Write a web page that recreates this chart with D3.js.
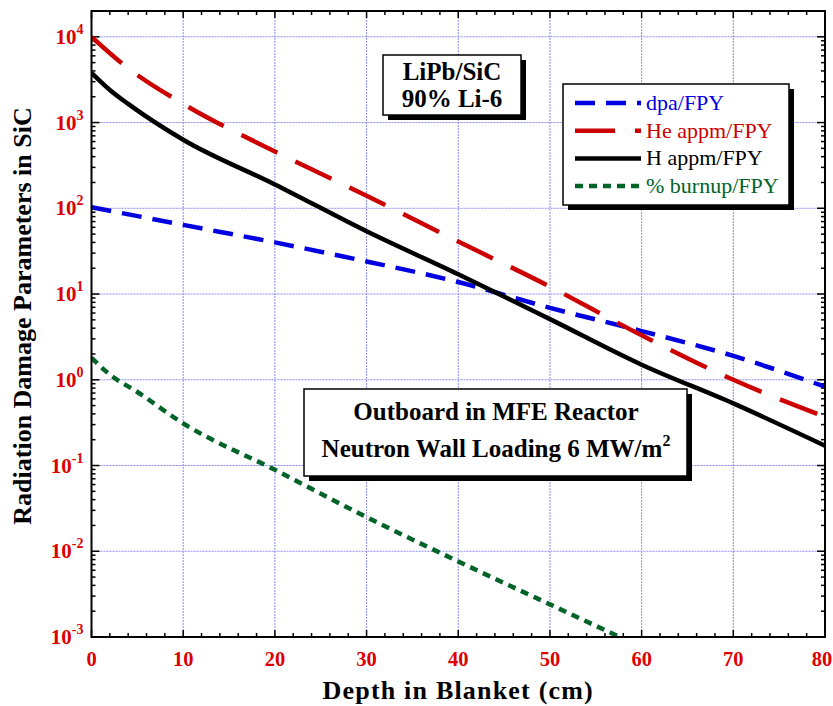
<!DOCTYPE html>
<html>
<head>
<meta charset="utf-8">
<script src="https://cdn.jsdelivr.net/npm/d3@7"></script>
<style>
body{margin:0;background:#fff}
text{font-family:"Liberation Serif","Times New Roman",serif}
</style>
</head>
<body>
<script>
// depth in blanket (cm) and values per full-power year
var depthA=[0,2,4,10,20,30,40,50,60,70,80]
var hAppm=[3800,2400,1650,630,190,54,17,5.1,1.5,0.53,0.17]
var depthB=[0,4,10,20,30,40,50,60,70,80]
var heAppm=[10000,4300,1650,460,140,41,12.2,3.3,1.0,0.37]
var depthC=[0,10,20,30,40,50,60,70,80]
var dpa=[103,64,40,24,13.8,6.9,3.7,1.9,0.83]
var depthD=[0,2,5,10,20,30,40,50,60]
var burnup=[1.8,1.15,0.72,0.31,0.089,0.025,0.0076,0.0024,0.00076]
var xTicks=[0,10,20,30,40,50,60,70,80]
var yExps=[-3,-2,-1,0,1,2,3,4]

var screen={width:833,height:706}
var margins={top:11,right:8,bottom:69,left:91.5}
var width=screen.width-margins.left-margins.right
var height=screen.height-margins.top-margins.bottom

var series=[
  {name:"dpa/FPY",x:depthC,y:dpa,color:"#0000e0",dash:"20,11"},
  {name:"He appm/FPY",x:depthB,y:heAppm,color:"#cc0000",dash:"40,20"},
  {name:"H appm/FPY",x:depthA,y:hAppm,color:"#000000",dash:null},
  {name:"% burnup/FPY",x:depthD,y:burnup,color:"#006428",dash:"8,6"}
]

var xScale=d3.scaleLinear().domain([0,80]).range([0,width])
var yScale=d3.scaleLog().domain([1e-3,2e4]).range([height,0])

var svg=d3.select("body").append("svg")
  .attr("width",screen.width)
  .attr("height",screen.height)
var g=svg.append("g")
  .attr("transform","translate("+margins.left+","+margins.top+")")

g.append("clipPath").attr("id","clip")
  .append("rect").attr("width",width).attr("height",height)

//grid
var grid=g.append("g").attr("stroke","#8c8cf0").attr("stroke-width",1).attr("stroke-dasharray","2,1")
grid.selectAll(".gx").data(xTicks.slice(1,-1)).enter().append("line")
  .attr("x1",function(d){return xScale(d)}).attr("x2",function(d){return xScale(d)})
  .attr("y1",0).attr("y2",height)
grid.selectAll(".gy").data(yExps.slice(1)).enter().append("line")
  .attr("y1",function(d){return yScale(Math.pow(10,d))}).attr("y2",function(d){return yScale(Math.pow(10,d))})
  .attr("x1",0).attr("x2",width)

//ticks, all pointing inward
var minorX=d3.range(0,81,2)
var minorY=[]
yExps.forEach(function(e){for(var k=1;k<10;k++){var v=k*Math.pow(10,e);if(v<=2e4)minorY.push(v)}})
minorY.push(2e4)
var ticks=g.append("g").attr("stroke","#000").attr("stroke-width",1.5)
minorX.forEach(function(d){
  var len=d%10==0?7:4
  ticks.append("line").attr("x1",xScale(d)).attr("x2",xScale(d)).attr("y1",height).attr("y2",height-len)
  ticks.append("line").attr("x1",xScale(d)).attr("x2",xScale(d)).attr("y1",0).attr("y2",len)
})
minorY.forEach(function(d){
  var major=Math.abs(Math.log10(d)-Math.round(Math.log10(d)))<1e-9
  var len=major?8:4
  ticks.append("line").attr("y1",yScale(d)).attr("y2",yScale(d)).attr("x1",0).attr("x2",len)
  ticks.append("line").attr("y1",yScale(d)).attr("y2",yScale(d)).attr("x1",width).attr("x2",width-len)
})

//lines
var drawLine=function(s){
  return d3.line()
    .x(function(d,i){return xScale(s.x[i])})
    .y(function(d){return yScale(d)})
    .curve(d3.curveMonotoneX)(s.y)
}
g.append("g").attr("clip-path","url(#clip)")
  .selectAll("path").data(series).enter().append("path")
  .attr("d",drawLine)
  .attr("fill","none")
  .attr("stroke",function(d){return d.color})
  .attr("stroke-width",4.5)
  .attr("stroke-dasharray",function(d){return d.dash})

//frame
g.append("rect").attr("width",width).attr("height",height)
  .attr("fill","none").attr("stroke","#000").attr("stroke-width",2)

//tick labels
g.selectAll(".xl").data(xTicks).enter().append("text")
  .attr("x",function(d){return xScale(d)}).attr("y",height+29)
  .attr("dx",function(d,i){return i==xTicks.length-1?-3:0})
  .attr("text-anchor","middle").attr("fill","#dd0000")
  .attr("font-weight","bold").attr("font-size",20.5)
  .text(function(d){return d})
var yl=g.selectAll(".yl").data(yExps).enter().append("text")
  .attr("x",-8).attr("y",function(d){return yScale(Math.pow(10,d))+7})
  .attr("text-anchor","end").attr("fill","#dd0000")
  .attr("font-weight","bold").attr("font-size",21)
yl.append("tspan").text("10")
yl.append("tspan").attr("dy",-10).attr("font-size",14).text(function(d){return d})

//axis titles
svg.append("text").attr("x",margins.left+width/2).attr("y",699)
  .attr("text-anchor","middle").attr("font-weight","bold").attr("font-size",26)
  .attr("letter-spacing",1.2)
  .text("Depth in Blanket (cm)")
svg.append("text").attr("transform","translate(31,316) rotate(-90)")
  .attr("text-anchor","middle").attr("font-weight","bold").attr("font-size",26)
  .text("Radiation Damage Parameters in SiC")

//boxes with drop shadow
var box=function(x,y,w,h){
  svg.append("rect").attr("x",x+5).attr("y",y+5).attr("width",w).attr("height",h).attr("fill","#000")
  svg.append("rect").attr("x",x).attr("y",y).attr("width",w).attr("height",h)
    .attr("fill","#fff").attr("stroke","#000").attr("stroke-width",1.5)
}
box(383,55,138,60)
svg.append("text").attr("x",452).attr("y",80).attr("text-anchor","middle")
  .attr("font-weight","bold").attr("font-size",25).text("LiPb/SiC")
svg.append("text").attr("x",452).attr("y",107).attr("text-anchor","middle")
  .attr("font-weight","bold").attr("font-size",25).text("90% Li-6")

box(304,389,383,87)
svg.append("text").attr("x",496).attr("y",420).attr("text-anchor","middle")
  .attr("font-weight","bold").attr("font-size",25).text("Outboard in MFE Reactor")
var t2=svg.append("text").attr("x",496).attr("y",457).attr("text-anchor","middle")
  .attr("font-weight","bold").attr("font-size",25)
t2.append("tspan").text("Neutron Wall Loading 6 MW/m")
t2.append("tspan").attr("dy",-11).attr("font-size",16).text("2")

//legend
box(563,84,226,121)
var legend=svg.append("g").attr("transform","translate(575,103)")
var legendLines=legend.selectAll("g").data(series).enter().append("g")
  .attr("transform",function(d,i){return "translate(0,"+(i*27.7)+")"})
legendLines.append("line").attr("x1",0).attr("x2",66).attr("y1",0).attr("y2",0)
  .attr("stroke",function(d){return d.color}).attr("stroke-width",4.5)
  .attr("stroke-dasharray",function(d){return d.dash})
legendLines.append("text").attr("x",71).attr("y",7)
  .attr("font-size",22).attr("fill",function(d){return d.color})
  .text(function(d){return d.name})
</script>
</body>
</html>
